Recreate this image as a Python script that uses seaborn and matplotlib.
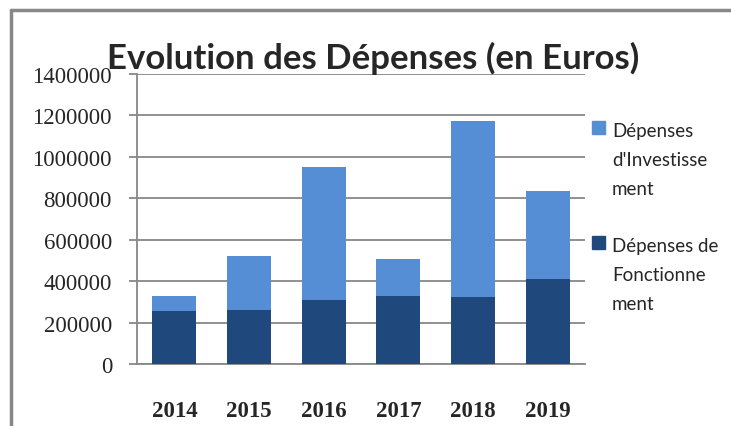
import numpy as np
import pandas as pd
import seaborn as sns
import matplotlib.pyplot as plt
from matplotlib.lines import Line2D
from matplotlib.patches import Rectangle

sns.set_style("white")

annees = ["2014", "2015", "2016", "2017", "2018", "2019"]
fonctionnement = [258000, 263000, 311000, 330000, 325000, 412000]
investissement = [72000, 260000, 638000, 179000, 846000, 421000]

col_invest = "#558ED5"
col_fonct = "#1F497D"
gris = "#878787"

df = pd.DataFrame({"annee": annees,
                   "fonct": fonctionnement,
                   "invest": investissement})
df["total"] = df["fonct"] + df["invest"]

W, H = 731, 427
fig = plt.figure(figsize=(W / 100, H / 100), dpi=100)
ax = fig.add_axes([137 / W, 1 - 365 / H, (585 - 137) / W, (365 - 75) / H])

# stacked bars: total first, then the bottom part drawn over it
sns.barplot(data=df, x="annee", y="total", color=col_invest, width=0.59,
            saturation=1, linewidth=0, ax=ax, zorder=3)
sns.barplot(data=df, x="annee", y="fonct", color=col_fonct, width=0.59,
            saturation=1, linewidth=0, ax=ax, zorder=3)

ax.set_ylim(0, 1400000)
ax.set_xlim(-0.5, 5.5)
ax.set_yticks(np.arange(0, 1400001, 200000))
ax.set_yticklabels([str(v) for v in range(0, 1400001, 200000)])
ax.set_xlabel("")
ax.set_ylabel("")
ax.yaxis.grid(True, color=gris, lw=1.3, zorder=0)
ax.set_axisbelow(True)

for s in ["top", "right"]:
    ax.spines[s].set_visible(False)
for s in ["left", "bottom"]:
    ax.spines[s].set_color(gris)
    ax.spines[s].set_linewidth(1.3)

ax.set_xticks(np.arange(-0.5, 6, 1), minor=True)
ax.tick_params(axis="x", which="major", length=0, pad=26)
ax.tick_params(axis="x", which="minor", length=6, color=gris, width=1.3)
ax.tick_params(axis="y", length=6, color=gris, width=1.3, pad=12, left=True)
for lab in ax.get_xticklabels():
    lab.set_fontfamily("Liberation Serif")
    lab.set_fontsize(16.5)
    lab.set_fontweight("bold")
for lab in ax.get_yticklabels():
    lab.set_fontfamily("Liberation Serif")
    lab.set_fontsize(16.5)

# chart frame (left and top only visible)
fig.add_artist(Line2D([11 / W, 11 / W], [0, 1 - 10.5 / H], color=gris, lw=2.5))
fig.add_artist(Line2D([11 / W, 1], [1 - 10.5 / H, 1 - 10.5 / H], color=gris, lw=2.5))

fig.text(373 / W, 1 - 69 / H, "Evolution des Dépenses (en Euros)",
         ha="center", va="baseline", fontsize=25, family="Lato",
         fontweight="bold")

# legend drawn by hand (square aligned with first line)
legende = [(col_invest, ["Dépenses", "d'Investisse", "ment"], 122),
           (col_fonct, ["Dépenses de", "Fonctionne", "ment"], 237)]
for couleur, lignes, y0 in legende:
    fig.add_artist(Rectangle((592 / W, 1 - (y0 + 13) / H), 13 / W, 13 / H,
                             color=couleur, transform=fig.transFigure))
    for i, txt in enumerate(lignes):
        fig.text(612 / W, 1 - (y0 + 15 + 29 * i) / H, txt, ha="left",
                 va="baseline", fontsize=13.5, family="Lato")

fig.savefig("out.png", dpi=100)
